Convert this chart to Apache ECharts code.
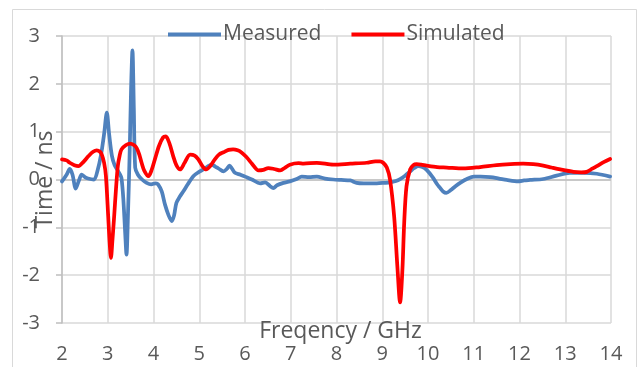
<!DOCTYPE html>
<html>
<head>
<meta charset="utf-8">
<script src="https://cdn.jsdelivr.net/npm/echarts@6/dist/echarts.min.js"></script>
<style>html,body{margin:0;padding:0;background:#fff;}#c{width:639px;height:367px;}</style>
</head>
<body>
<div id="c"></div>
<script>
const xTicks = [2,3,4,5,6,7,8,9,10,11,12,13,14];
const yTicks = [-3,-2,-1,0,1,2,3];
const seriesNames = ['Measured', 'Simulated'];

const measuredFreq = [2.0,2.1,2.17,2.23,2.3,2.37,2.43,2.5,2.57,2.7,2.78,2.85,2.92,2.98,3.03,3.09,3.15,3.2,3.27,3.3,3.34,3.38,3.41,3.44,3.48,3.51,3.54,3.57,3.6,3.66,3.75,3.85,3.95,4.05,4.1,4.18,4.25,4.33,4.4,4.45,4.5,4.58,4.65,4.75,4.87,4.98,5.09,5.18,5.27,5.35,5.42,5.53,5.6,5.66,5.72,5.78,5.9,6.0,6.15,6.33,6.44,6.55,6.62,6.7,6.84,6.98,7.13,7.24,7.4,7.57,7.75,7.93,8.1,8.3,8.44,8.6,8.88,9.05,9.17,9.3,9.39,9.5,9.61,9.7,9.79,9.88,9.97,10.1,10.2,10.26,10.33,10.4,10.5,10.6,10.72,10.85,11.0,11.15,11.36,11.55,11.72,11.97,12.1,12.23,12.52,12.81,13.1,13.4,13.69,13.98];
const measuredTime = [-0.04,0.1,0.22,0.1,-0.19,-0.02,0.1,0.05,0.02,0.0,0.2,0.5,0.95,1.4,0.95,0.5,0.3,0.22,0.1,0.03,-0.4,-1.1,-1.57,-0.8,0.6,1.9,2.7,1.5,0.25,0.1,0.0,-0.07,-0.1,-0.08,-0.1,-0.25,-0.52,-0.75,-0.87,-0.75,-0.49,-0.35,-0.25,-0.1,0.07,0.15,0.21,0.27,0.31,0.27,0.23,0.17,0.22,0.29,0.22,0.14,0.1,0.06,0.0,-0.08,-0.06,-0.14,-0.18,-0.12,-0.07,-0.04,0.01,0.06,0.05,0.06,0.02,0.0,-0.01,-0.02,-0.07,-0.08,-0.08,-0.07,-0.06,-0.03,0.01,0.08,0.17,0.24,0.28,0.26,0.2,0.05,-0.1,-0.17,-0.25,-0.28,-0.22,-0.14,-0.06,0.01,0.06,0.06,0.05,0.02,-0.01,-0.04,-0.02,-0.01,0.01,0.08,0.14,0.14,0.12,0.06];

const simulatedFreq = [2.0,2.1,2.17,2.27,2.36,2.47,2.58,2.68,2.76,2.83,2.87,2.92,2.96,3.01,3.04,3.07,3.1,3.14,3.18,3.22,3.26,3.3,3.4,3.49,3.57,3.63,3.69,3.74,3.8,3.89,3.96,4.03,4.12,4.21,4.27,4.35,4.43,4.5,4.58,4.68,4.8,4.9,4.98,5.07,5.15,5.24,5.34,5.43,5.53,5.64,5.74,5.84,5.93,6.02,6.11,6.2,6.29,6.4,6.51,6.64,6.77,6.88,6.98,7.17,7.28,7.57,7.93,8.3,8.66,8.85,8.95,9.02,9.1,9.17,9.26,9.33,9.39,9.44,9.48,9.53,9.61,9.68,9.75,9.85,9.97,10.2,10.41,10.77,11.14,11.5,11.8,12.08,12.3,12.52,12.7,12.89,13.18,13.35,13.47,13.58,13.69,13.85,13.98];
const simulatedTime = [0.42,0.4,0.35,0.3,0.28,0.37,0.49,0.58,0.61,0.58,0.52,0.35,0.07,-0.77,-1.3,-1.64,-1.3,-0.77,-0.2,0.28,0.5,0.63,0.72,0.75,0.72,0.66,0.52,0.35,0.18,0.07,0.2,0.42,0.7,0.88,0.9,0.75,0.49,0.3,0.21,0.35,0.52,0.5,0.42,0.28,0.21,0.28,0.42,0.52,0.57,0.62,0.63,0.61,0.56,0.48,0.38,0.27,0.19,0.2,0.24,0.22,0.19,0.25,0.31,0.34,0.33,0.35,0.31,0.33,0.35,0.38,0.38,0.35,0.25,0.0,-0.77,-1.81,-2.57,-1.9,-0.9,-0.14,0.21,0.3,0.32,0.31,0.29,0.26,0.25,0.23,0.26,0.3,0.32,0.33,0.32,0.29,0.25,0.21,0.16,0.15,0.16,0.22,0.28,0.37,0.43];

const pairs = (xs, ys) => xs.map((x, i) => [x, ys[i]]);
const FONT = '"Open Sans", "Noto Sans", sans-serif';
const TXT = '#595959';

const chart = echarts.init(document.getElementById('c'), null, {renderer: 'canvas'});
chart.setOption({
  animation: false,
  backgroundColor: '#ffffff',
  graphic: [{
    type: 'rect', silent: true, z: -10,
    shape: {x: 12.5, y: 9.5, width: 624, height: 370},
    style: {fill: 'none', stroke: '#d9d9d9', lineWidth: 1}
  }],
  grid: {left: 62, right: 28, top: 36, bottom: 44, containLabel: false, outerBoundsMode: 'none'},
  legend: {
    data: seriesNames,
    left: 163, top: 19,
    itemWidth: 53, itemHeight: 4, itemGap: 30,
    icon: 'rect',
    textStyle: {fontFamily: FONT, fontSize: 21, color: TXT, padding: [0, 0, 0, -3]}
  },
  xAxis: {
    type: 'value', min: 2, max: 14, interval: 1,
    name: 'Freqency / GHz', nameLocation: 'middle', nameGap: -3, nameMoveOverlap: false,
    nameTextStyle: {fontFamily: FONT, fontSize: 23, color: TXT, padding: [0, 0, 0, 8]},
    axisLine: {show: false},
    axisTick: {show: false},
    axisLabel: {fontFamily: FONT, fontSize: 20, color: TXT, margin: 21,
      formatter: v => xTicks.includes(v) ? String(v) : ''},
    splitLine: {show: true, lineStyle: {color: '#d9d9d9', width: 1.5}}
  },
  yAxis: {
    type: 'value', min: -3, max: 3, interval: 1,
    name: 'Time / ns', nameLocation: 'middle', nameGap: 5, nameRotate: 90, nameMoveOverlap: false,
    nameTextStyle: {fontFamily: FONT, fontSize: 23, color: TXT},
    axisLine: {show: true, lineStyle: {color: '#bfbfbf', width: 1.5}},
    axisTick: {show: true, length: 6, lineStyle: {color: '#bfbfbf', width: 1.5}},
    axisLabel: {fontFamily: FONT, fontSize: 20, color: TXT, margin: 22,
      formatter: v => yTicks.includes(v) ? String(v) : ''},
    splitLine: {show: true, lineStyle: {color: '#d9d9d9', width: 1.5}}
  },
  series: [
    {
      name: seriesNames[0], type: 'line', data: pairs(measuredFreq, measuredTime),
      showSymbol: false, smooth: 0.3, z: 3,
      lineStyle: {color: '#4f81bd', width: 3.75, cap: 'round', join: 'round'},
      itemStyle: {color: '#4f81bd'},
      markLine: {
        silent: true, symbol: 'none', label: {show: false}, z: 1,
        lineStyle: {color: '#bfbfbf', width: 1.5, type: 'solid'},
        data: [{yAxis: 0}]
      }
    },
    {
      name: seriesNames[1], type: 'line', data: pairs(simulatedFreq, simulatedTime),
      showSymbol: false, smooth: 0.3, z: 4,
      lineStyle: {color: '#ff0000', width: 3.75, cap: 'round', join: 'round'},
      itemStyle: {color: '#ff0000'}
    }
  ]
});
</script>
</body>
</html>
